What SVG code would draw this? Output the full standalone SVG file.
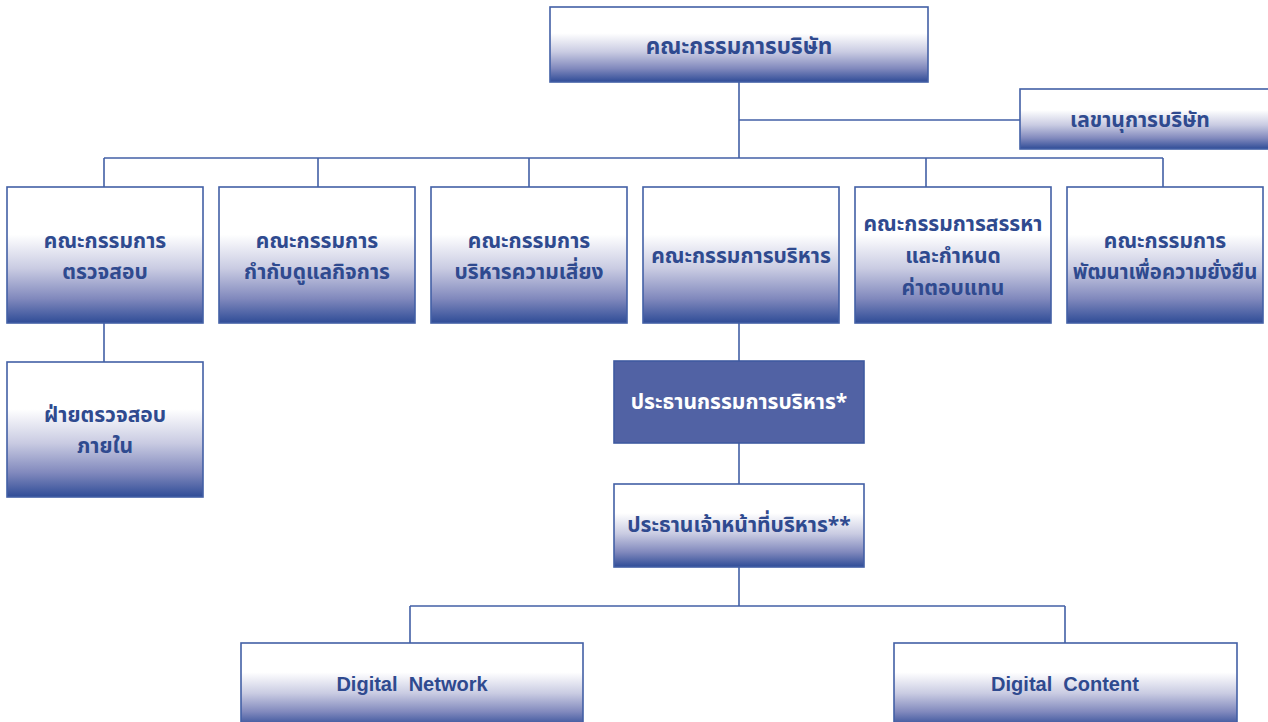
<svg xmlns="http://www.w3.org/2000/svg" width="1268" height="722" viewBox="0 0 1268 722">
<defs>
<linearGradient id="g" x1="0" y1="0" x2="0" y2="1">
<stop offset="0" stop-color="#ffffff"/>
<stop offset="0.35" stop-color="#ffffff"/>
<stop offset="0.6" stop-color="#c9cbe2"/>
<stop offset="0.82" stop-color="#8189bd"/>
<stop offset="1" stop-color="#2f4c97"/>
</linearGradient>
<style>
.b{fill:url(#g);stroke:#4360a6;stroke-width:1.6}
.s{fill:#5162a4;stroke:#3f5aa0;stroke-width:1.6}
.t{font-family:"Noto Sans Thai","Noto Sans","Liberation Sans",sans-serif;font-weight:bold;font-size:21px;fill:#2f4a8f;text-anchor:middle}
.big{font-size:22.5px}
.sm{font-size:20.3px}
.lat{font-family:"Liberation Sans",Arial,sans-serif;font-size:20px;white-space:pre}
.w{fill:#ffffff}
.c{fill:none;stroke:#4360a6;stroke-width:1.6}
</style>
</defs>
<rect width="1268" height="722" fill="#ffffff"/>
<g id="connectors" class="c">
<path d="M739 82V158M739 120H1020M104 158H1163M104 158V187M318 158V187M529 158V187M926 158V187M1163 158V187"/>
<path d="M104 323V362M739 323V361M739 443V484M739 567V606M410 606H1065M410 606V643M1065 606V643"/>
</g>
<g id="board"><rect class="b" x="550" y="7" width="378" height="75"/><text class="t big" x="739" y="54">คณะกรรมการบริษัท</text></g>
<g id="secretary"><rect class="b" x="1020" y="89" width="252" height="60"/><text class="t" x="1140" y="127">เลขานุการบริษัท</text></g>
<g id="audit"><rect class="b" x="7" y="187" width="196" height="136"/><text class="t" x="105" y="248">คณะกรรมการ</text><text class="t" x="105" y="279">ตรวจสอบ</text></g>
<g id="governance"><rect class="b" x="219" y="187" width="196" height="136"/><text class="t" x="317" y="248">คณะกรรมการ</text><text class="t" x="317" y="279">กำกับดูแลกิจการ</text></g>
<g id="risk"><rect class="b" x="431" y="187" width="196" height="136"/><text class="t" x="529" y="248">คณะกรรมการ</text><text class="t" x="529" y="279">บริหารความเสี่ยง</text></g>
<g id="executive"><rect class="b" x="643" y="187" width="196" height="136"/><text class="t" x="741" y="263">คณะกรรมการบริหาร</text></g>
<g id="nomination"><rect class="b" x="855" y="187" width="196" height="136"/><text class="t" x="953" y="231">คณะกรรมการสรรหา</text><text class="t" x="953" y="263">และกำหนด</text><text class="t" x="953" y="295">ค่าตอบแทน</text></g>
<g id="sustainability"><rect class="b" x="1067" y="187" width="196" height="136"/><text class="t" x="1165" y="248">คณะกรรมการ</text><text class="t sm" x="1165" y="279">พัฒนาเพื่อความยั่งยืน</text></g>
<g id="internal-audit"><rect class="b" x="7" y="362" width="196" height="135"/><text class="t" x="105" y="422">ฝ่ายตรวจสอบ</text><text class="t" x="105" y="453">ภายใน</text></g>
<g id="chairman-exec"><rect class="s" x="614" y="361" width="250" height="82"/><text class="t w" x="739" y="409">ประธานกรรมการบริหาร*</text></g>
<g id="ceo"><rect class="b" x="614" y="484" width="250" height="83"/><text class="t" x="739" y="532">ประธานเจ้าหน้าที่บริหาร**</text></g>
<g id="digital-network"><rect class="b" x="241" y="643" width="342" height="84"/><text class="t lat" x="412" y="691" xml:space="preserve">Digital  Network</text></g>
<g id="digital-content"><rect class="b" x="894" y="643" width="343" height="84"/><text class="t lat" x="1065" y="691" xml:space="preserve">Digital  Content</text></g>
</svg>
